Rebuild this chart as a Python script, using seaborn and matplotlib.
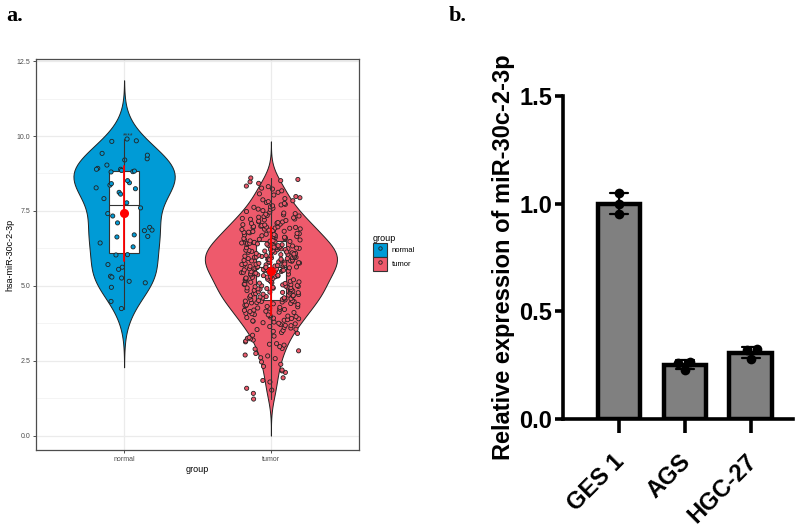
import numpy as np
import pandas as pd
import matplotlib
matplotlib.use("Agg")
import matplotlib.pyplot as plt
import matplotlib.transforms as mtransforms
import seaborn as sns
from matplotlib.patches import Patch
from matplotlib.lines import Line2D
from matplotlib.legend_handler import HandlerTuple

# ---------------- data: panel a ----------------
groups = ["normal", "tumor"]
group_colors = ["#009BD6", "#EE5A6C"]
normal_values = [9.90, 9.84, 9.82, 9.20, 9.24, 9.36, 9.42, 9.03, 8.92, 8.89, 8.89, 8.85,
                 8.81, 8.80, 8.83, 8.44, 8.27, 8.51, 8.36, 8.12, 8.41, 8.24, 8.06, 7.91,
                 7.77, 7.60, 7.33, 7.41, 7.10, 6.95, 6.86, 6.70, 6.65, 6.84, 6.63, 6.43,
                 6.30, 6.04, 6.03, 5.71, 5.55, 5.62, 5.32, 5.29, 5.26, 5.10, 5.15, 4.95,
                 4.48, 4.24]
tumor_values = [
    1.22, 1.41,
    1.52, 1.58, 1.79, 1.84, 1.93,
    2.11, 2.16, 2.19, 2.31, 2.38, 2.46,
    2.57, 2.60, 2.66, 2.69, 2.74, 2.83, 2.89, 2.91, 2.97,
    3.02, 3.05, 3.07, 3.13, 3.16, 3.19, 3.23, 3.25, 3.27, 3.32, 3.35, 3.41, 3.44, 3.48,
    3.51, 3.54, 3.55, 3.59, 3.61, 3.64, 3.67, 3.68, 3.71, 3.73, 3.75, 3.77, 3.79, 3.82,
    3.83, 3.85, 3.87, 3.90, 3.91, 3.92, 3.94, 3.96, 3.97, 3.99,
    4.01, 4.03, 4.04, 4.07, 4.08, 4.11, 4.12, 4.14, 4.15, 4.18, 4.19, 4.21, 4.22, 4.25,
    4.26, 4.28, 4.30, 4.31, 4.33, 4.35, 4.36, 4.38, 4.40, 4.41, 4.43, 4.44, 4.46, 4.47,
    4.48, 4.49,
    4.50, 4.51, 4.53, 4.54, 4.55, 4.57, 4.58, 4.59, 4.60, 4.62, 4.63, 4.64, 4.66, 4.67,
    4.68, 4.69, 4.71, 4.72, 4.73, 4.74, 4.76, 4.77, 4.78, 4.79, 4.80, 4.82, 4.83, 4.84,
    4.85, 4.87, 4.88, 4.89, 4.90, 4.91, 4.92, 4.93, 4.94, 4.95, 4.96, 4.97, 4.98, 4.99,
    5.00, 5.01, 5.03, 5.04, 5.05, 5.06, 5.08, 5.09, 5.10, 5.12, 5.13, 5.14, 5.15, 5.17,
    5.18, 5.19, 5.20, 5.22, 5.23, 5.24, 5.25, 5.26, 5.28, 5.29, 5.30, 5.31, 5.33, 5.34,
    5.35, 5.36, 5.37, 5.39, 5.40, 5.41, 5.42, 5.43, 5.44, 5.45, 5.46, 5.47, 5.48, 5.49,
    5.50, 5.51, 5.51, 5.53, 5.54, 5.54, 5.56, 5.57, 5.58, 5.60, 5.61, 5.61, 5.63, 5.64,
    5.65, 5.66, 5.66, 5.68, 5.69, 5.70, 5.71, 5.72, 5.72, 5.74, 5.75, 5.76, 5.77, 5.78,
    5.79, 5.80, 5.80, 5.82, 5.83, 5.84, 5.85, 5.86, 5.86, 5.88, 5.89, 5.90, 5.91, 5.91,
    5.93, 5.94, 5.95, 5.95, 5.96, 5.97, 5.98, 5.99, 5.52, 5.62, 5.73, 5.87,
    6.00, 6.01, 6.02, 6.02, 6.04, 6.05, 6.07, 6.08, 6.08, 6.10, 6.11, 6.12, 6.12, 6.14,
    6.15, 6.17, 6.18, 6.19, 6.20, 6.22, 6.23, 6.24, 6.25, 6.27, 6.27, 6.28, 6.30, 6.31,
    6.32, 6.33, 6.35, 6.36, 6.37, 6.38, 6.39, 6.41, 6.42, 6.43, 6.44, 6.45, 6.46, 6.47,
    6.48, 6.49, 6.06, 6.16, 6.21, 6.29, 6.34, 6.40, 6.26, 6.13,
    6.50, 6.51, 6.53, 6.54, 6.55, 6.57, 6.58, 6.60, 6.61, 6.62, 6.64, 6.65, 6.67, 6.68,
    6.70, 6.71, 6.72, 6.74, 6.75, 6.77, 6.78, 6.79, 6.81, 6.82, 6.84, 6.85, 6.86, 6.88,
    6.89, 6.90, 6.92, 6.93, 6.94, 6.95, 6.96, 6.97, 6.98, 6.99,
    7.01, 7.03, 7.04, 7.06, 7.08, 7.09, 7.11, 7.13, 7.14, 7.16, 7.18, 7.20, 7.22, 7.23,
    7.25, 7.27, 7.29, 7.31, 7.33, 7.35, 7.37, 7.39, 7.41, 7.43, 7.46, 7.48,
    7.51, 7.54, 7.56, 7.59, 7.62, 7.64, 7.67, 7.70, 7.72, 7.75, 7.78, 7.81, 7.84, 7.87,
    7.91, 7.94, 7.98,
    8.03, 8.07, 8.12, 8.17, 8.23, 8.26, 8.31, 8.33, 8.42, 8.47,
    8.51, 8.55, 8.60]
violin_widths = [0.69, 0.9]
y_ticks_a = [0.0, 2.5, 5.0, 7.5, 10.0, 12.5]
signif_label = "****"

# ---------------- data: panel b ----------------
cell_lines = ["GES 1", "AGS", "HGC-27"]
ges1_reps = [1.05, 1.00, 0.95]
ags_reps = [0.227, 0.266, 0.262]
hgc27_reps = [0.278, 0.320, 0.325]
y_ticks_b = [0.0, 0.5, 1.0, 1.5]

# ---------------- style ----------------
sns.set_theme(style="ticks")
plt.rcParams["font.family"] = ["Liberation Sans", "DejaVu Sans"]
plt.rcParams["text.color"] = "black"
plt.rcParams["axes.labelcolor"] = "black"
plt.rcParams["xtick.color"] = "black"
plt.rcParams["ytick.color"] = "black"
np.random.seed(3)

fig = plt.figure(figsize=(8, 5.29), dpi=100)
W, H = 800.0, 529.0
axA = fig.add_axes([36 / W, 1 - 450 / H, (359 - 36) / W, (450 - 59.3) / H])
axB = fig.add_axes([563 / W, 1 - 419 / H, (793 - 563) / W, (419 - 96) / H])

# ---------------- panel a ----------------
dfA = pd.DataFrame({
    "group": ["normal"] * len(normal_values) + ["tumor"] * len(tumor_values),
    "value": normal_values + tumor_values,
})
pal = dict(zip(groups, group_colors))


def nrd0(kde):
    return 0.9 * kde.n ** -0.2


for g, w in zip(groups, violin_widths):
    sns.violinplot(data=dfA[dfA["group"] == g], x="group", y="value", hue="group",
                   order=groups, hue_order=groups, palette=pal, cut=3, inner=None,
                   density_norm="width", width=w, linewidth=0.7, linecolor="#222222",
                   saturation=1, legend=False, bw_method=nrd0, ax=axA, zorder=2)
sns.boxplot(data=dfA, x="group", y="value", order=groups, width=0.2, color="white",
            linecolor="#333333", linewidth=0.8, whis=0, showcaps=False, showfliers=False,
            saturation=1, ax=axA, zorder=3)
sns.stripplot(data=dfA, x="group", y="value", hue="group", order=groups, hue_order=groups,
              palette=pal, jitter=0.2, size=3, edgecolor="#222222", linewidth=0.6,
              legend=False, ax=axA, zorder=4)
sns.pointplot(data=dfA, x="group", y="value", order=groups, estimator="median",
              errorbar=("pi", 100), color="#333333", linestyle="none", marker="",
              err_kws={"linewidth": 0.8, "zorder": 5}, ax=axA, zorder=5)
sns.pointplot(data=dfA, x="group", y="value", order=groups, estimator="mean",
              errorbar="sd", color="red", linestyle="none", marker="o", markersize=4.5,
              err_kws={"linewidth": 1.3, "zorder": 6}, ax=axA, zorder=6)

axA.text(0.03, 10.02, signif_label, ha="center", va="center", fontsize=5, color="#333333")

axA.set_xlim(-0.6, 1.6)
axA.set_ylim(-0.48, 12.56)
axA.set_yticks(y_ticks_a)
axA.set_yticklabels([f"{v:.1f}" for v in y_ticks_a])
minor = [(a + b) / 2 for a, b in zip(y_ticks_a[:-1], y_ticks_a[1:])]
axA.set_yticks(minor, minor=True)
axA.set_xticks([0, 1])
axA.set_xticklabels(groups)
axA.grid(True, which="major", color="#EBEBEB", linewidth=0.9)
axA.grid(True, which="minor", axis="y", color="#F3F3F3", linewidth=0.6)
axA.set_axisbelow(True)
for sp in axA.spines.values():
    sp.set_visible(True)
    sp.set_color("#4D4D4D")
    sp.set_linewidth(0.9)
axA.tick_params(axis="both", which="major", length=2.5, width=0.6, color="#333333",
                labelsize=5, labelcolor="#4D4D4D", pad=1.5)
axA.tick_params(which="minor", length=0)
axA.set_xlabel("group", fontsize=6.5, labelpad=2)
axA.set_ylabel("hsa-miR-30c-2-3p", fontsize=6.5, labelpad=2)

handles = [(Patch(facecolor=c, edgecolor="#333333", linewidth=0.8),
            Line2D([], [], marker="o", linestyle="none", markersize=2.5, markerfacecolor=c,
                   markeredgecolor="#222222", markeredgewidth=0.6))
           for c in group_colors]
fig.legend(handles, groups, handler_map={tuple: HandlerTuple(ndivide=1, pad=0)},
           title="group", loc="upper left", bbox_to_anchor=(373 / W, 1 - 234 / H),
           frameon=False, fontsize=5.5, title_fontsize=6.5, handlelength=1.85,
           handleheight=2.44, labelspacing=0.0, handletextpad=0.6, borderpad=0,
           borderaxespad=0, alignment="left")

# ---------------- panel b ----------------
dfB = pd.DataFrame({
    "cell": [cell_lines[0]] * len(ges1_reps) + [cell_lines[1]] * len(ags_reps)
            + [cell_lines[2]] * len(hgc27_reps),
    "value": ges1_reps + ags_reps + hgc27_reps,
})
sns.barplot(data=dfB, x="cell", y="value", order=cell_lines, errorbar="sd", capsize=0.27,
            color="#808080", saturation=1, edgecolor="black", linewidth=3.2, width=0.65,
            err_kws={"color": "black", "linewidth": 1.6}, ax=axB)
sns.swarmplot(data=dfB, x="cell", y="value", order=cell_lines, color="black", size=7,
              ax=axB, zorder=5)

axB.set_xlim(-0.85, 2.64)
axB.set_ylim(0, 1.5)
axB.set_yticks(y_ticks_b)
axB.set_yticklabels([f"{v:.1f}" for v in y_ticks_b])
for s in ["top", "right"]:
    axB.spines[s].set_visible(False)
for s in ["left", "bottom"]:
    axB.spines[s].set_linewidth(2.6)
    axB.spines[s].set_color("black")
axB.tick_params(axis="y", length=6, width=2.6, labelsize=17, pad=2, color="black",
                labelcolor="black")
axB.tick_params(axis="x", length=10, width=2.6, labelsize=17, pad=12, color="black",
                labelcolor="black")
for lbl in axB.get_yticklabels():
    lbl.set_fontweight("bold")
shift = mtransforms.ScaledTranslation(-6 / 100, 0, fig.dpi_scale_trans)
for lbl in axB.get_xticklabels():
    lbl.set_fontweight("bold")
    lbl.set_rotation(45)
    lbl.set_ha("right")
    lbl.set_va("top")
    lbl.set_rotation_mode("anchor")
    lbl.set_transform(lbl.get_transform() + shift)
axB.set_xlabel("")
axB.set_ylabel("Relative expression of miR-30c-2-3p", fontsize=17, fontweight="bold",
               labelpad=3, color="black")

# ---------------- panel labels ----------------
fig.text(6 / W, 1 - 21 / H, "a.", fontsize=16, fontweight="bold",
         family=["Liberation Serif", "DejaVu Serif"], va="baseline", color="black")
fig.text(449 / W, 1 - 21 / H, "b.", fontsize=16, fontweight="bold",
         family=["Liberation Serif", "DejaVu Serif"], va="baseline", color="black")

fig.savefig("out.png", dpi=100)
